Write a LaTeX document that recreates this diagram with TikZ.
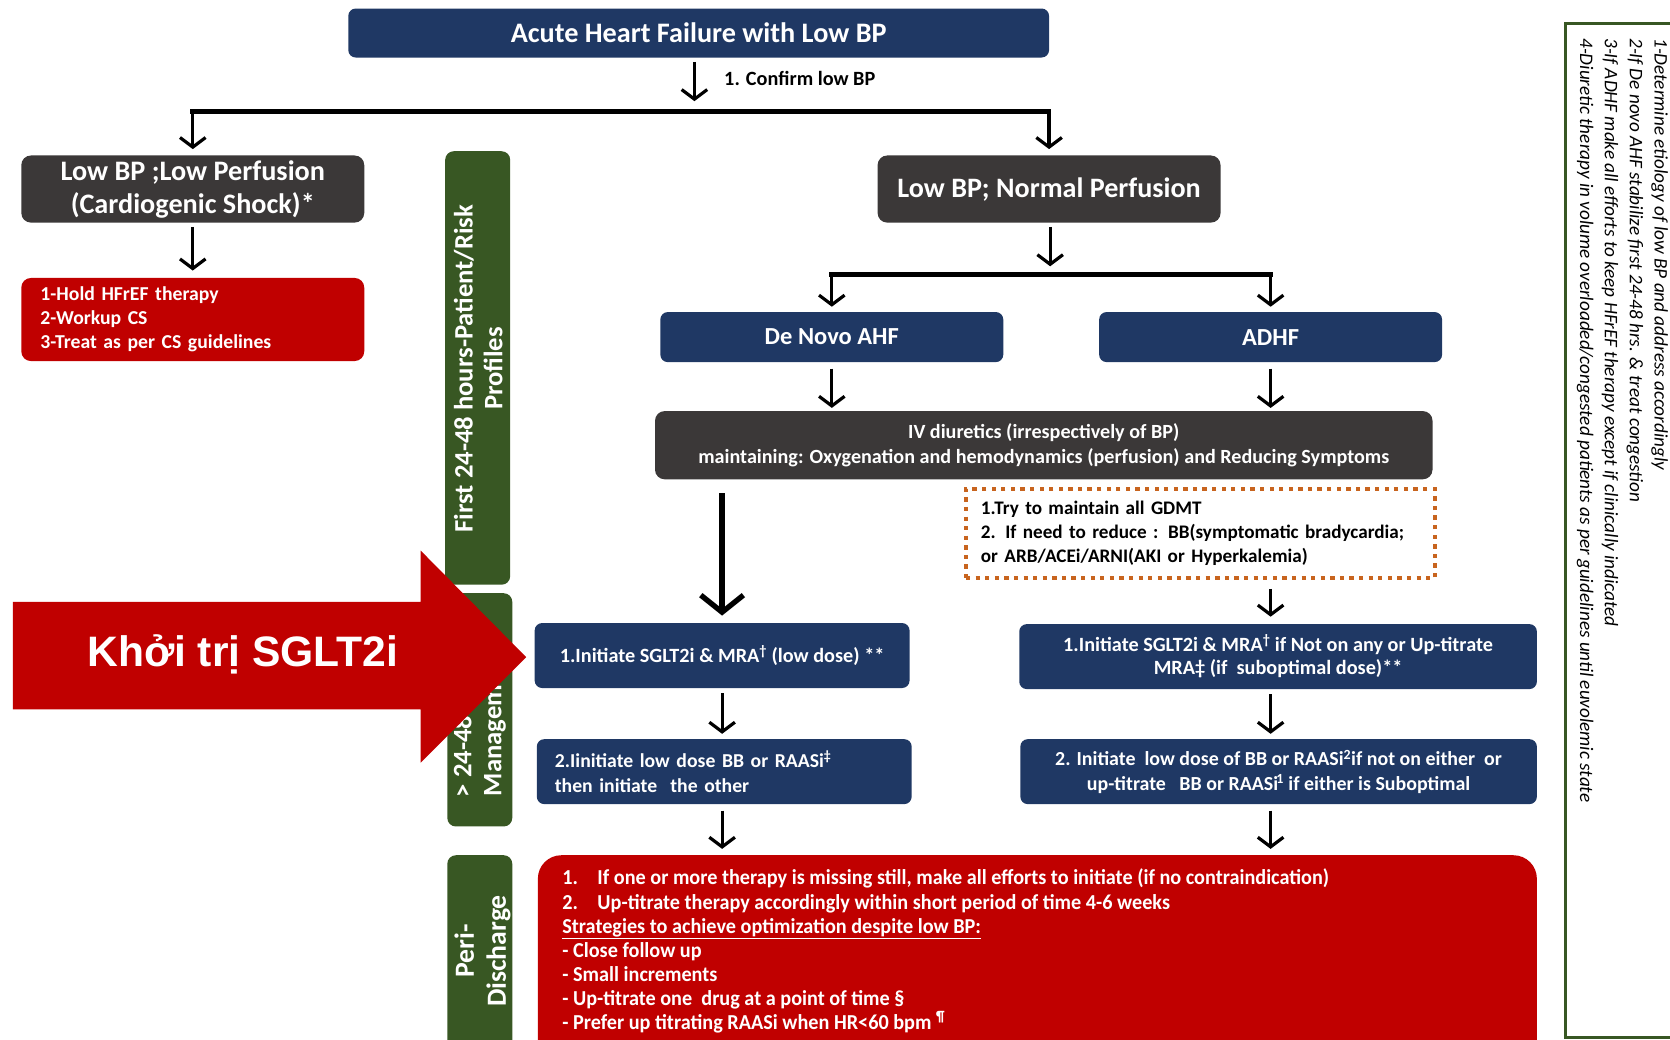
\documentclass[tikz,border=0pt]{standalone}
\usepackage{fontspec}
\setmainfont{Carlito}
\newfontfamily\arrowfont{Liberation Sans}
\newfontfamily\narrowfont[FakeStretch=0.95]{Carlito}
\usetikzlibrary{arrows.meta}

\definecolor{navy}{RGB}{31,56,100}
\definecolor{charcoal}{RGB}{59,56,56}
\definecolor{alarm}{RGB}{192,0,0}
\definecolor{olive}{RGB}{56,87,35}
\definecolor{amber}{RGB}{200,100,30}

\begin{document}
\begin{tikzpicture}[x=1pt,y=-1pt,
  every node/.style={inner sep=0pt, outer sep=0pt},
  card/.style={anchor=north west, rounded corners=7pt, text=white, align=center},
  navycard/.style={card, fill=navy},
  greycard/.style={card, fill=charcoal, rounded corners=9pt},
  redcard/.style={card, fill=alarm, rounded corners=9pt},
  phase/.style={anchor=north west, fill=olive, rounded corners=8pt, minimum width=61pt},
  phaselabel/.style={rotate=90, text=white, align=center,
    font=\bfseries\fontsize{25}{28}\selectfont},
  flow/.style={draw=black, line width=3pt, -{Straight Barb[length=9pt,width=24pt]}},
  bigflow/.style={draw=black, line width=5pt, -{Straight Barb[length=16pt,width=40pt]}},
  branch/.style={draw=black, line width=4.5pt, line cap=rect},
  small/.style={font=\bfseries\fontsize{19}{22}\selectfont},
]
\useasboundingbox (0,0) rectangle (1568,976);
\clip (0,0) rectangle (1568,976);

% ---------- top of the flow ----------
\node[navycard, minimum width=658pt, minimum height=46pt,
  font=\bfseries\fontsize{26.5}{30}\selectfont] (top) at (327,8)
  {Acute Heart Failure with Low BP};
\node[anchor=west, font=\bfseries\fontsize{19}{22}\selectfont] (confirm) at (680,74)
  {1. Confirm low BP};

\node[greycard, minimum width=322pt, minimum height=63pt,
  font=\bfseries\fontsize{26.5}{31}\selectfont] (lowperf) at (20,146)
  {Low BP ;Low Perfusion\\(Cardiogenic Shock)*};
\node[redcard, minimum width=322pt, minimum height=78pt, text width=286pt,
  inner xsep=18pt, align=left, font=\bfseries\fontsize{18.5}{22.5}\selectfont] (cs) at (20,261)
  {1-Hold HFrEF therapy\\2-Workup CS\\3-Treat as per CS guidelines};

\node[greycard, minimum width=322pt, minimum height=63pt,
  font=\bfseries\fontsize{26.4}{30}\selectfont] (lownorm) at (824,146)
  {Low BP; Normal Perfusion};

\node[navycard, minimum width=322pt, minimum height=47pt,
  font=\bfseries\fontsize{23}{27}\selectfont] (denovo) at (620,293) {De Novo AHF};
\node[navycard, minimum width=322pt, minimum height=47pt,
  font=\bfseries\fontsize{23}{27}\selectfont] (adhf) at (1032,293) {ADHF};

\node[greycard, minimum width=730pt, minimum height=64pt,
  font=\bfseries\fontsize{18.9}{23}\selectfont] (ivd) at (615,386)
  {IV diuretics (irrespectively of BP)\\maintaining: Oxygenation and hemodynamics (perfusion) and Reducing Symptoms};

\node[anchor=north west, draw=amber, line width=4pt, dash pattern=on 4pt off 5pt,
  minimum width=440pt, minimum height=84pt, text width=412pt, inner xsep=14pt,
  align=left, font=\bfseries\fontsize{18}{22.5}\selectfont] (keep) at (907,459)
  {1.Try to maintain all GDMT\\2. If need to reduce : BB(symptomatic bradycardia;\\or ARB/ACEi/ARNI(AKI or Hyperkalemia)};

% ---------- titration steps ----------
\node[navycard, minimum width=352pt, minimum height=61pt, small] (sgA) at (502,585)
  {1.Initiate SGLT2i \& MRA\textsuperscript{†} (low dose) **};
\node[navycard, minimum width=486pt, minimum height=61pt, small] (sgB) at (957,586)
  {1.Initiate SGLT2i \& MRA\textsuperscript{†} if Not on any or Up-titrate\\MRA‡ (if\ \ suboptimal dose)**};
\node[navycard, minimum width=352pt, minimum height=61pt, text width=318pt,
  inner xsep=17pt, align=left, font=\bfseries\fontsize{18.5}{23}\selectfont] (bbA) at (504,694)
  {2.Iinitiate low dose BB or RAASi\textsuperscript{‡}\\then initiate\ \ the other};
\node[navycard, minimum width=485pt, minimum height=61pt,
  font=\bfseries\fontsize{18.7}{23}\selectfont] (bbB) at (958,694)
  {2. Initiate\ \ low dose of BB or RAASi\textsuperscript{2}if not on either\ \ or\\up-titrate\ \ \ BB or RAASi\kern-0.1em\textsuperscript{1}\ if either is Suboptimal};

% ---------- discharge ----------
\node[anchor=north west, fill=alarm, rounded corners=22pt,
  minimum width=938pt, minimum height=200pt] (disch) at (505,803) {};
\node[anchor=north west, text=white, align=left,
  font=\narrowfont\bfseries\fontsize{20}{22.7}\selectfont] (dischtext) at (528,816)
  {\makebox[33pt][l]{1.}If one or more therapy is missing still, make all efforts to initiate (if no contraindication)\\
   \makebox[33pt][l]{2.}Up-titrate therapy accordingly within short period of time 4-6 weeks\\
   \underline{Strategies to achieve optimization despite low BP:}\\
   - Close follow up\\
   - Small increments\\
   - Up-titrate one\ \ drug at a point of time §\\
   - Prefer up titrating RAASi when HR<60 bpm \textsuperscript{¶}};

% ---------- phase bars ----------
\node[phase, minimum height=407pt] (early) at (418,142) {};
\node[phaselabel] (earlylbl) at (449,346) {First 24-48 hours-Patient/Risk\\Profiles};
\node[phase, minimum height=219pt] (mid) at (420,557) {};
\node[phaselabel] (midlbl) at (450,678) {> 24-48 hours\\Management};
\node[phase, minimum height=190pt] (peri) at (420,803) {};
\node[phaselabel, font=\bfseries\fontsize{26}{30}\selectfont] (perilbl) at (453,893)
  {Peri-\\Discharge};

% ---------- notes column ----------
\node[anchor=north west, draw=olive, line width=3pt, minimum width=140pt,
  minimum height=952pt] (legend) at (1470,22) {};
\node[rotate=-90, anchor=north west, align=left,
  font=\itshape\fontsize{18}{23.3}\selectfont] (legendtext) at (1566,36)
  {1-Determine etiology of low BP and address accordingly\\
   2-If De novo AHF stabilize first 24-48 hrs. \& treat congestion\\
   3-If ADHF make all efforts to keep HFrEF therapy except if clinically indicated\\
   4-Diuretic therapy in volume overloaded/congested patients as per guidelines until euvolemic state};

% ---------- connectors ----------
\coordinate (fork1) at (652,105);
\coordinate (fork2) at (986,258);
\draw[flow, shorten <=4pt] (top.south -| fork1) -- ([yshift=10pt]fork1);
\draw[branch] (lowperf.north |- fork1) -- (lownorm.north |- fork1);
\draw[flow, shorten >=6pt] (lowperf.north |- fork1) -- (lowperf.north);
\draw[flow, shorten >=6pt] (lownorm.north |- fork1) -- (lownorm.north);
\draw[flow, shorten <=4pt, shorten >=7pt] (lowperf.south) -- (cs.north);

\draw[flow, shorten <=4pt, shorten >=8pt] (lownorm.south -| fork2) -- (fork2);
\draw[branch] (denovo.north |- fork2) -- (adhf.north |- fork2);
\draw[flow, shorten >=5pt] (denovo.north |- fork2) -- (denovo.north);
\draw[flow, shorten >=5pt] (adhf.north |- fork2) -- (adhf.north);
\draw[flow, shorten <=6pt, shorten >=3pt] (denovo.south) -- (denovo.south |- ivd.north);
\draw[flow, shorten <=6pt, shorten >=3pt] (adhf.south) -- (adhf.south |- ivd.north);

\draw[bigflow, shorten <=13pt, shorten >=7pt] (ivd.south -| sgA.north) -- (sgA.north);
\draw[flow, shorten <=10pt, shorten >=7pt] (keep.south -| adhf.south) -- (adhf.south |- sgB.north);
\draw[flow, shorten <=5pt, shorten >=5pt] (sgA.south) -- (sgA.south |- bbA.north);
\draw[flow, shorten <=5pt, shorten >=5pt] (sgB.south -| adhf.south) -- (adhf.south |- bbB.north);
\draw[flow, shorten <=6pt, shorten >=6pt] (bbA.south -| sgA.south) -- (sgA.south |- disch.north);
\draw[flow, shorten <=6pt, shorten >=6pt] (bbB.south -| adhf.south) -- (adhf.south |- disch.north);

% ---------- highlight arrow ----------
\fill[alarm] (12,565) -- (395,565) -- (395,517) -- (494,617) -- (395,716) -- (395,666) -- (12,666) -- cycle;
\node[text=white, font=\arrowfont\bfseries\fontsize{40}{48}\selectfont] (cue) at (228,614)
  {Khởi trị SGLT2i};
\end{tikzpicture}
\end{document}
